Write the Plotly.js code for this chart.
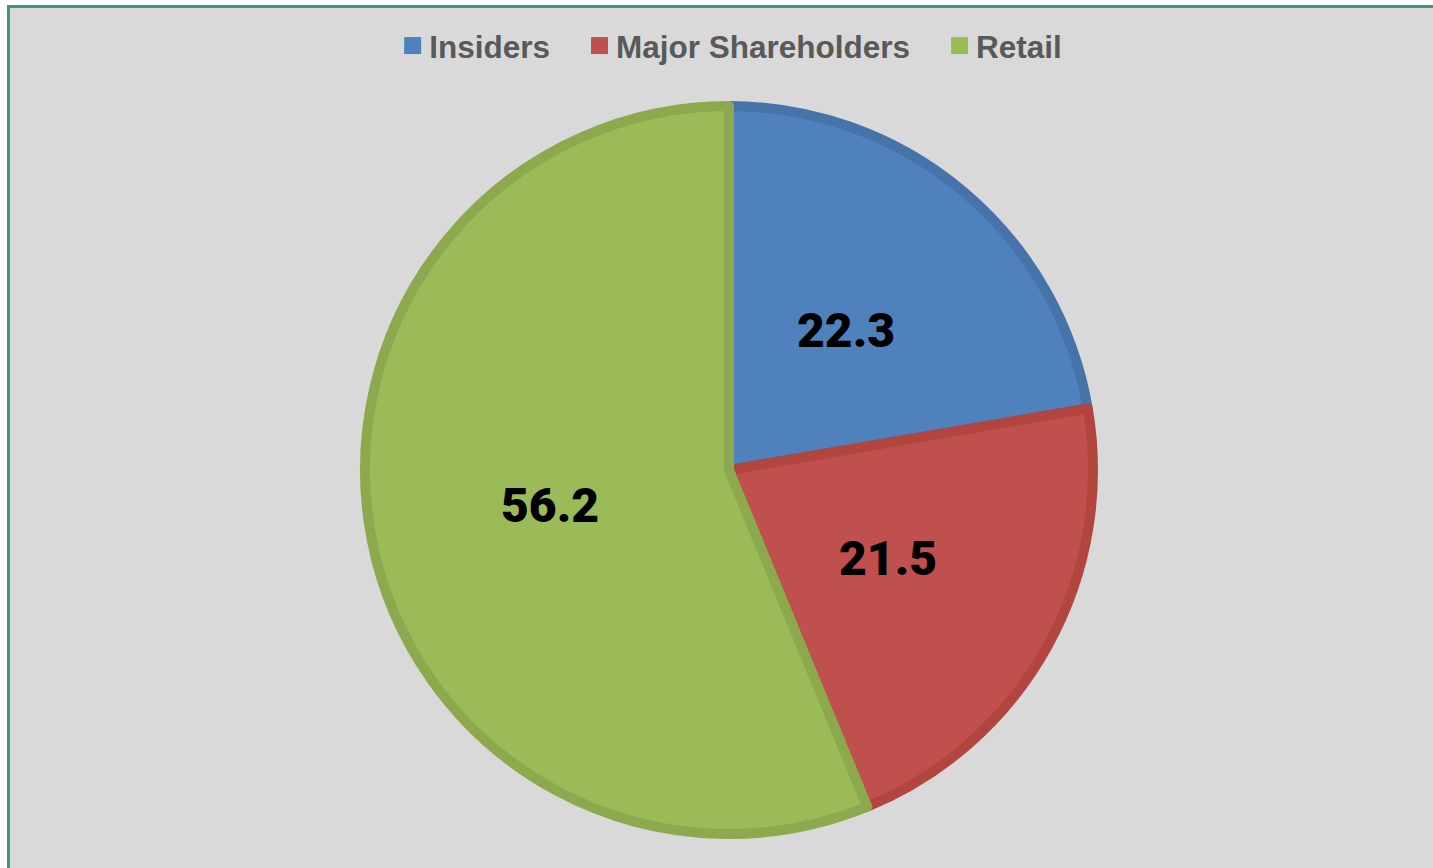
<!DOCTYPE html>
<html>
<head>
<meta charset="utf-8">
<script src="https://cdn.plot.ly/plotly-3.0.1.min.js"></script>
<style>
  html, body { margin:0; padding:0; background:#ffffff; overflow:hidden; width:1433px; height:868px; }
  #wrap { position:absolute; left:7px; top:5px; width:1430px; height:870px;
          border-left:3px solid #3A9D6E; border-top:3px solid #3A9D6E; background:#D9D9D9; }
  #chart { width:1430px; height:870px; }
</style>
</head>
<body>
<div id="wrap"><div id="chart"></div></div>
<script>
const categories = ["Insiders", "Major Shareholders", "Retail"];
const values = [22.3, 21.5, 56.2];
const labelsText = ["22.3", "21.5", "56.2"];
const fillColors = ["#4F81BD", "#C0504D", "#9BBB59"];
const edgeColors = ["#4673AA", "#B2463F", "#8CAA4D"];

const W = 1430, H = 870;
const dom = { x: [0.24825, 0.75734], y: [0.05057, 0.88736] };
const R = Math.min((dom.x[1] - dom.x[0]) * W, (dom.y[1] - dom.y[0]) * H) / 2;
const cx = (dom.x[0] + dom.x[1]) / 2, cy = (dom.y[0] + dom.y[1]) / 2;

// value labels placed at half radius along each slice's mid angle (clockwise from top)
const total = values.reduce((a, b) => a + b, 0);
let cum = 0;
const annotations = values.map((v, i) => {
  const mid = (cum + v / 2) / total * 2 * Math.PI;
  cum += v;
  const d = 0.5 * R;
  return {
    xref: "paper", yref: "paper",
    x: cx + d * Math.sin(mid) / W,
    y: cy + d * Math.cos(mid) / H,
    xanchor: "center", yanchor: "middle",
    text: labelsText[i], showarrow: false,
    font: { family: "Roboto, DejaVu Sans", size: 48, color: "#000000", weight: 900 }
  };
});

const trace = {
  type: "pie",
  labels: categories,
  values: values,
  textinfo: "none",
  sort: false,
  direction: "clockwise",
  rotation: 0,
  hoverinfo: "skip",
  marker: { colors: fillColors, line: { color: edgeColors, width: 10 } },
  domain: dom
};

const layout = {
  width: W, height: H,
  margin: { l: 0, r: 0, t: 0, b: 0 },
  paper_bgcolor: "#D9D9D9",
  plot_bgcolor: "#D9D9D9",
  showlegend: true,
  annotations: annotations,
  legend: {
    orientation: "h",
    x: 0.5, xanchor: "center",
    y: 0.9568, yanchor: "middle",
    bgcolor: "rgba(0,0,0,0)",
    font: { family: "Liberation Sans, Arial", size: 31.5, color: "#595959", weight: "bold" },
    traceorder: "normal"
  }
};

Plotly.newPlot("chart", [trace], layout, { displayModeBar: false, staticPlot: true }).then(gd => {
  const leg = gd.querySelector("g.legend");
  if (!leg) return;
  leg.querySelectorAll("[clip-path]").forEach(e => e.removeAttribute("clip-path"));
  const tr = leg.getAttribute("transform") || "";
  const m = tr.match(/translate\(([-\d.]+)[ ,]+([-\d.]+)\)/);
  const ty = m ? parseFloat(m[2]) : 0;
  leg.setAttribute("transform", "translate(0," + ty + ")");
  // bigger square markers sitting close to their text
  leg.querySelectorAll("path.legendpie").forEach(p => {
    p.setAttribute("d", "M12,8.5H-5V-8.5H12Z");
    p.style.strokeWidth = "0px";
  });
  const items = Array.from(leg.querySelectorAll("g.traces"));
  const origins = [], widths = [];
  let o = 0;
  items.forEach(it => {
    const tw = it.querySelector("text.legendtext").getComputedTextLength();
    origins.push(o); widths.push(tw);
    o += tw + 66;
  });
  const start = origins[0] + 15;
  const end = origins[origins.length - 1] + 40 + widths[widths.length - 1];
  const shift = 723 - (start + end) / 2;
  items.forEach((it, i) => {
    const t = it.getAttribute("transform") || "";
    const mm = t.match(/translate\(([-\d.]+)[ ,]+([-\d.]+)\)/);
    const yi = mm ? parseFloat(mm[2]) : 0;
    it.setAttribute("transform", "translate(" + (origins[i] + shift) + "," + yi + ")");
  });
});
</script>
</body>
</html>
